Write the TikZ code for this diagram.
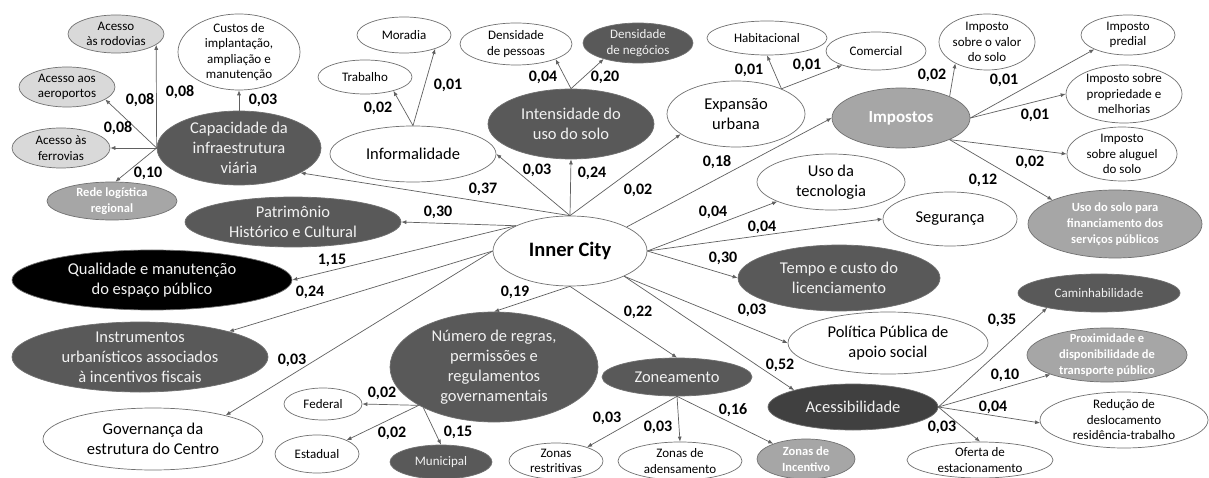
\documentclass[tikz,border=0pt]{standalone}
\usepackage{fontspec}
\setmainfont{Carlito}
\usetikzlibrary{shapes.geometric,arrows.meta}
\definecolor{dgrey}{HTML}{595959}
\definecolor{dkgrey}{HTML}{404040}
\definecolor{mgrey}{HTML}{A6A6A6}
\definecolor{lgrey}{HTML}{D9D9D9}
\definecolor{bordc}{HTML}{707070}
\definecolor{linec}{HTML}{606060}
\definecolor{txtw}{HTML}{F2F2F2}
\begin{document}
\begin{tikzpicture}[x=1pt,y=-1pt,
  el/.style={ellipse,draw=bordc,line width=0.7pt,inner sep=0pt},
  wh/.style={el,fill=white},
  lg/.style={el,fill=lgrey},
  mg/.style={el,fill=mgrey},
  dg/.style={el,fill=dgrey},
  dk/.style={el,fill=dkgrey},
  bk/.style={el,fill=black},
  sz/.style 2 args={minimum width=#1pt,minimum height=#2pt},
  L/.style 2 args={label={[align=center,inner sep=0pt,#1]center:{#2}}},
  bigb/.style={font=\fontsize{16.5}{20}\selectfont,text=black},
  bigw/.style={font=\fontsize{16.5}{20}\selectfont,text=txtw},
  smb/.style={font=\fontsize{13}{15.5}\selectfont,text=black},
  smw/.style={font=\fontsize{13}{15.5}\selectfont,text=txtw},
  bw/.style={font=\bfseries\fontsize{12.5}{16}\selectfont,text=white},
  val/.style={font=\bfseries\fontsize{16}{16}\selectfont,inner sep=0pt},
  arr/.style={draw=linec,line width=0.7pt,-{Latex[length=5pt,width=4pt]}}
]
\fill[white] (0,0) rectangle (1209,478);
\useasboundingbox (0,0) rectangle (1209,478);

% ---- nodes ----
\node[wh,sz={154}{70},L={font=\bfseries\fontsize{20.5}{24}\selectfont}{Inner City}] (IC) at (570,251) {};

\node[dg,sz={164}{74},L={bigw}{Capacidade da\\infraestrutura\\viária}] (cap) at (239,148) {};
\node[lg,sz={96}{38},L={smb}{Acesso\\às rodovias}] (rod) at (116,34) {};
\node[wh,sz={122}{76},L={smb}{Custos de\\implantação,\\ampliação e\\manutenção}] (cus) at (239,52) {};
\node[lg,sz={96}{40},L={smb}{Acesso aos\\aeroportos}] (aer) at (67,87) {};
\node[lg,sz={98}{40},L={smb}{Acesso às\\ferrovias}] (fer) at (61,148) {};
\node[mg,sz={130}{38},L={bw}{Rede logística\\regional}] (rede) at (112,201) {};

\node[wh,sz={166}{56},L={bigb}{Informalidade}] (inf) at (413,154) {};
\node[wh,sz={94}{36},L={smb}{Moradia}] (mor) at (404,35) {};
\node[wh,sz={94}{34},L={smb}{Trabalho}] (trab) at (365,77) {};

\node[dg,sz={166}{70},L={bigw}{Intensidade do\\uso do solo}] (int) at (571,124) {};
\node[wh,sz={112}{42},L={smb}{Densidade\\de pessoas}] (dp) at (516,44) {};
\node[dg,sz={110}{40},L={smw}{Densidade\\de negócios}] (dn) at (638,43) {};

\node[wh,sz={138}{66},L={bigb}{Expansão\\urbana}] (exp) at (736,114) {};
\node[wh,sz={120}{34},L={smb}{Habitacional}] (hab) at (767,38) {};
\node[wh,sz={100}{38},L={smb}{Comercial}] (com) at (876,51) {};

\node[mg,sz={138}{60},L={font=\bfseries\fontsize{17}{20}\selectfont,text=white}{Impostos}] (imp) at (901,118) {};
\node[wh,sz={96}{56},L={smb}{Imposto\\sobre o valor\\do solo}] (ivs) at (987,42) {};
\node[wh,sz={94}{40},L={smb}{Imposto\\predial}] (ip) at (1128,35) {};
\node[wh,sz={116}{58},L={smb}{Imposto sobre\\propriedade e\\melhorias}] (ipm) at (1124,94) {};
\node[wh,sz={110}{54},L={smb}{Imposto\\sobre aluguel\\do solo}] (ial) at (1122,154) {};
\node[mg,sz={174}{68},L={bw}{Uso do solo para\\financiamento dos\\serviços públicos}] (usf) at (1115,224) {};

\node[wh,sz={148}{56},L={bigb}{Uso da\\tecnologia}] (tec) at (831,182) {};
\node[wh,sz={134}{54},L={bigb}{Segurança}] (seg) at (950,219) {};

\node[dg,sz={216}{50},L={bigw}{Patrimônio\\Histórico e Cultural}] (pat) at (293,222) {};
\node[bk,sz={280}{60},L={bigw}{Qualidade e manutenção\\do espaço público}] (qual) at (152,280) {};
\node[dg,sz={256}{70},L={bigw}{Instrumentos\\urbanísticos associados\\à incentivos fiscais}] (ins) at (140,357) {};
\node[wh,sz={220}{62},L={bigb}{Governança da\\estrutura do Centro}] (gov) at (153,439) {};

\node[dg,sz={208}{110},L={bigw}{Número de regras,\\permissões e\\regulamentos\\governamentais}] (num) at (494,367) {};
\node[wh,sz={78}{32},L={smb}{Federal}] (fed) at (323,404) {};
\node[wh,sz={84}{38},L={smb}{Estadual}] (est) at (317,454) {};
\node[dg,sz={102}{34},L={smw}{Municipal}] (mun) at (441,462) {};

\node[dg,sz={150}{38},L={bigw}{Zoneamento}] (zon) at (677,377) {};
\node[wh,sz={94}{36},L={smb}{Zonas\\restritivas}] (zr) at (556,461) {};
\node[wh,sz={124}{38},L={smb}{Zonas de\\adensamento}] (za) at (680,461) {};
\node[mg,sz={98}{40},L={bw}{Zonas de\\Incentivo}] (zi) at (806,459) {};

\node[dg,sz={202}{66},L={bigw}{Tempo e custo do\\licenciamento}] (tempo) at (839,278) {};
\node[wh,sz={200}{62},L={bigb}{Política Pública de\\apoio social}] (pol) at (888,343) {};
\node[dk,sz={170}{46},L={bigw}{Acessibilidade}] (aces) at (853,407) {};
\node[dg,sz={162}{38},L={smw}{Caminhabilidade}] (cam) at (1099,293) {};
\node[mg,sz={160}{54},L={bw}{Proximidade e\\disponibilidade de\\transporte público}] (prox) at (1107,355) {};
\node[wh,sz={168}{56},L={smb}{Redução de\\deslocamento\\residência-trabalho}] (red) at (1124,420) {};
\node[wh,sz={146}{36},L={smb}{Oferta de\\estacionamento}] (ofe) at (980,460) {};

% ---- connectors from Inner City ----
\draw[arr] (IC.north) -- (cap.338);
\draw[arr] (IC.north) -- (inf.east);
\draw[arr] (IC.north) -- (int.south);
\draw[arr] (IC.north) -- (exp.200);
\draw[arr] (IC.23) -- (imp.west);
\draw[arr] (IC.east) -- (tec.200);
\draw[arr] (IC.east) -- (seg.west);
\draw[arr] (IC.east) -- (tempo.west);
\draw[arr] (IC.335) -- (pol.west);
\draw[arr] (IC.335) -- (aces.164);
\draw[arr] (IC.south) -- (zon.north);
\draw[arr] (IC.south) -- (num.north);
\draw[arr] (IC.west) -- (gov.18);
\draw[arr] (IC.west) -- (ins.16);
\draw[arr] (IC.155) -- (qual.east);
\draw[arr] (IC.155) -- (pat.east);

% ---- sub connectors ----
\draw[arr] (cap.west) -- (rod.345);
\draw[arr] (cap.west) -- (aer.342);
\draw[arr] (cap.west) -- (fer.east);
\draw[arr] (cap.west) -- (rede.80);
\draw[arr] (cap.north) -- (cus.south);
\draw[arr] (inf.north) -- (trab.334);
\draw[arr] (inf.north) -- (mor.336);
\draw[arr] (int.north) -- (dp.339);
\draw[arr] (int.north) -- (dn.205);
\draw[arr] (exp.29) -- (hab.south);
\draw[arr] (exp.29) -- (com.203);
\draw[arr] (imp.24) -- (ivs.214);
\draw[arr] (imp.east) -- (ip.203);
\draw[arr] (imp.east) -- (ipm.west);
\draw[arr] (imp.336) -- (ial.west);
\draw[arr] (imp.336) -- (usf.159);
\draw[arr] (num.207) -- (fed.east);
\draw[arr] (num.207) -- (est.25);
\draw[arr] (num.210) -- (mun.north);
\draw[arr] (zon.south) -- (zr.24);
\draw[arr] (zon.south) -- (za.north);
\draw[arr] (zon.south) -- (zi.155);
\draw[arr] (aces.east) -- (cam.196);
\draw[arr] (aces.east) -- (prox.199);
\draw[arr] (aces.east) -- (red.182);
\draw[arr] (aces.east) -- (ofe.north);

% ---- values ----
\node[val] (va1) at (483,189) {0,37};
\node[val] (va2) at (537,170) {0,03};
\node[val] (va3) at (592,173) {0,24};
\node[val] (va4) at (638,190) {0,02};
\node[val] (va5) at (717,162) {0,18};
\node[val] (va6) at (713,212) {0,04};
\node[val] (va7) at (762,227) {0,04};
\node[val] (va8) at (723,258) {0,30};
\node[val] (va9) at (752,310) {0,03};
\node[val] (va10) at (780,365) {0,52};
\node[val] (va11) at (638,312) {0,22};
\node[val] (va12) at (515,292) {0,19};
\node[val] (va13) at (292,360) {0,03};
\node[val] (va14) at (310,292) {0,24};
\node[val] (va15) at (332,260) {1,15};
\node[val] (va16) at (438,212) {0,30};
\node[val] (vb1) at (180,92) {0,08};
\node[val] (vb2) at (140,100) {0,08};
\node[val] (vb3) at (118,128) {0,08};
\node[val] (vb4) at (148,173) {0,10};
\node[val] (vb5) at (263,100) {0,03};
\node[val] (vc1) at (378,108) {0,02};
\node[val] (vc2) at (448,85) {0,01};
\node[val] (vd1) at (543,77) {0,04};
\node[val] (vd2) at (605,77) {0,20};
\node[val] (ve1) at (749,70) {0,01};
\node[val] (ve2) at (807,65) {0,01};
\node[val] (vf1) at (932,75) {0,02};
\node[val] (vf2) at (1004,80) {0,01};
\node[val] (vf3) at (1035,115) {0,01};
\node[val] (vf4) at (1030,162) {0,02};
\node[val] (vf5) at (983,180) {0,12};
\node[val] (vg1) at (382,393) {0,02};
\node[val] (vg2) at (392,433) {0,02};
\node[val] (vg3) at (458,432) {0,15};
\node[val] (vh1) at (607,418) {0,03};
\node[val] (vh2) at (658,427) {0,03};
\node[val] (vh3) at (733,410) {0,16};
\node[val] (vi1) at (1002,320) {0,35};
\node[val] (vi2) at (1005,375) {0,10};
\node[val] (vi3) at (993,407) {0,04};
\node[val] (vi4) at (942,427) {0,03};
\end{tikzpicture}
\end{document}
